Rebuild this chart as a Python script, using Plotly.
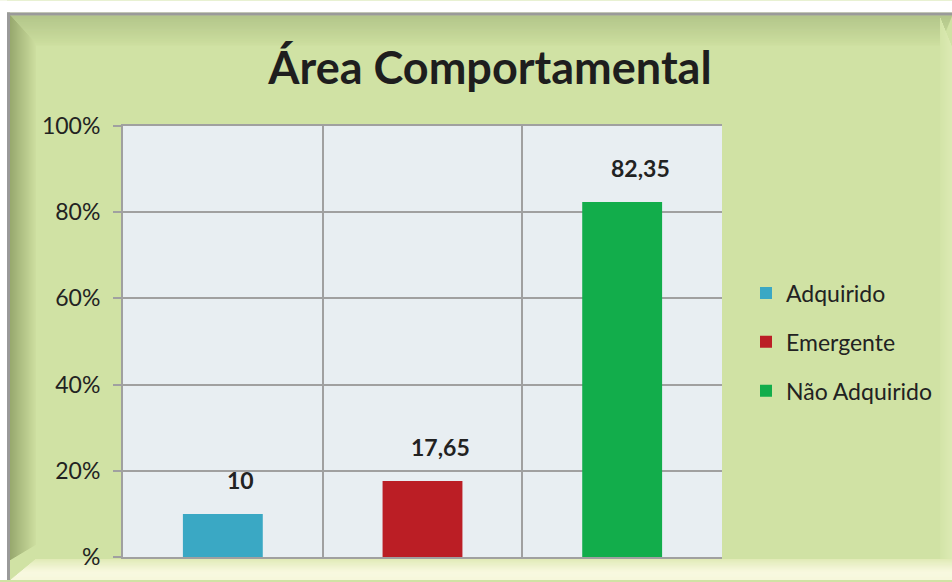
import plotly.graph_objects as go

categories = ["Adquirido", "Emergente", "Não Adquirido"]
values = [10, 17.65, 82.35]
labels = ["10", "17,65", "82,35"]
colors = ["#3AA8C4", "#BB1E25", "#12AD4B"]
tick_vals = [0, 20, 40, 60, 80, 100]
tick_text = ["%", "20%", "40%", "60%", "80%", "100%"]

W, H = 952, 582
L, R, T, B = 123, 722, 126, 559  # plot area in px
FONT = "Lato"


def px(x):
    return (x - L) / (R - L)


def py(y):
    return (B - y) / (B - T)


fig = go.Figure()
for cat, v, c, lab in zip(categories, values, colors, labels):
    fig.add_trace(go.Bar(x=[cat], y=[v], name=cat, marker_color=c,
                         marker_line_width=0, width=0.4, legendgroup=cat))
    fig.add_annotation(x=cat, y=v, text="<b>%s</b>" % lab, showarrow=False,
                       yshift=34, xshift=18, xref="x", yref="y",
                       font=dict(family=FONT, size=23, color="#222222"))

shapes = []


def hline(y, x0, x1, color, w=1):
    shapes.append(dict(type="line", xref="paper", yref="paper",
                       x0=px(x0), x1=px(x1), y0=py(y), y1=py(y),
                       line=dict(color=color, width=w), layer="below"))


def vline(x, y0, y1, color, w=1):
    shapes.append(dict(type="line", xref="paper", yref="paper",
                       x0=px(x), x1=px(x), y0=py(y0), y1=py(y1),
                       line=dict(color=color, width=w), layer="below"))


def rect(x0, y0, x1, y1, color):
    shapes.append(dict(type="rect", xref="paper", yref="paper",
                       x0=px(x0), x1=px(x1), y0=py(y1), y1=py(y0),
                       fillcolor=color, line=dict(width=0), layer="below"))


def mix(c1, c2, t):
    a = [int(c1[i:i + 2], 16) for i in (1, 3, 5)]
    b = [int(c2[i:i + 2], 16) for i in (1, 3, 5)]
    return "#%02X%02X%02X" % tuple(round(a[k] + (b[k] - a[k]) * t) for k in range(3))


BASE = "#D0E2A4"
# white outer margin
rect(0, 0, W, 12, "white")
rect(0, 0, 7, H, "white")
# top bevel gradient
N = 30
for i in range(N):
    t = i / (N - 1)
    hline(15.5 + i, 10 + i * 0.8, W - i * 0.4, mix("#A9BC82", "#CBDD9E", t))
# left bevel gradient
N2 = 26
for i in range(N2):
    t = i / (N2 - 1)
    vline(10.5 + i, 15 + i * 1.1, 562 - i * 0.6, mix("#98A96E", "#CCDD9F", t))
# right bevel
for i in range(12):
    vline(W - 0.5 - i, 15 + (12 - i) * 2.5, 562, mix("#DCEAB3", "#D3E4A8", i / 11))
# bottom bevel
N3 = 21
for i in range(N3):
    t = i / (N3 - 1)
    hline(561.5 + i, 35 - i * 1.2, W, mix("#E2EBB9", "#FBFAE4", min(1, t * 1.6)))
# frame border
rect(7, 12, W, 15, "#9A9A9A")
rect(7, 12, 10, H, "#9A9A9A")

fig.update_layout(
    width=W, height=H,
    margin=dict(l=L, r=W - R, t=T, b=H - B),
    paper_bgcolor=BASE,
    plot_bgcolor="#E8EEF2",
    barmode="overlay",
    shapes=shapes,
    title=dict(text="<b>Área Comportamental</b>", x=490 / W, xanchor="center",
               y=1 - 68 / H, yanchor="middle",
               font=dict(family=FONT, size=45, color="#1E1E1E")),
    showlegend=True,
    legend=dict(x=px(746), xanchor="left", y=py(343), yanchor="middle",
                bgcolor="rgba(0,0,0,0)", tracegroupgap=16,
                font=dict(family=FONT, size=23, color="#222222")),
    xaxis=dict(type="category", tickson="boundaries", showticklabels=False,
               showgrid=True, gridcolor="#A0A0A0", gridwidth=2,
               showline=True, linecolor="#A0A0A0", linewidth=2, mirror=True,
               ticks="", range=[-0.5, 2.5]),
    yaxis=dict(range=[0, 100], tickvals=tick_vals, ticktext=tick_text,
               showgrid=True, gridcolor="#A0A0A0", gridwidth=2,
               showline=True, linecolor="#A0A0A0", linewidth=2,
               ticks="outside", ticklen=8, tickcolor="#A0A0A0", tickwidth=2,
               ticklabelstandoff=8,
               tickfont=dict(family=FONT, size=23, color="#222222"),
               zeroline=False),
)

fig.write_html("out.html")
